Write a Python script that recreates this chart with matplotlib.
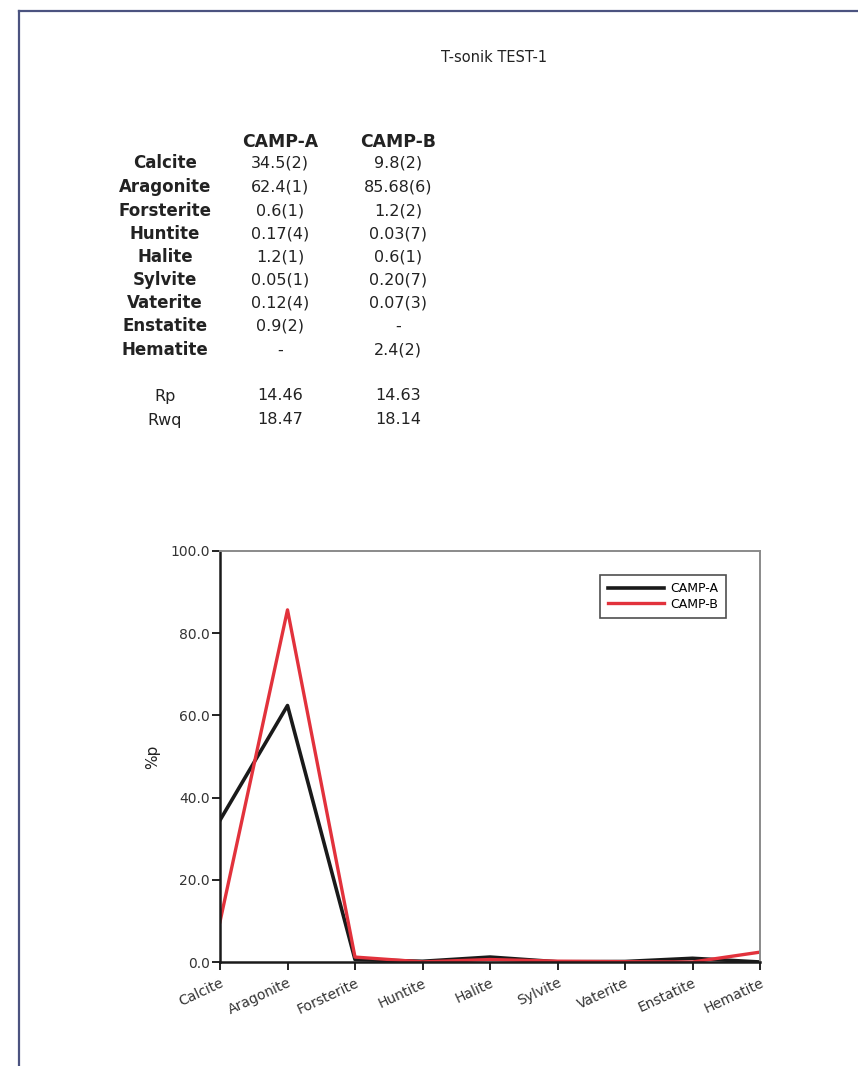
import matplotlib.pyplot as plt
from matplotlib.lines import Line2D

minerals = ['Calcite', 'Aragonite', 'Forsterite', 'Huntite', 'Halite',
            'Sylvite', 'Vaterite', 'Enstatite', 'Hematite']
camp_a = ['34.5(2)', '62.4(1)', '0.6(1)', '0.17(4)', '1.2(1)',
          '0.05(1)', '0.12(4)', '0.9(2)', '-']
camp_b = ['9.8(2)', '85.68(6)', '1.2(2)', '0.03(7)', '0.6(1)',
          '0.20(7)', '0.07(3)', '-', '2.4(2)']
fit_names = ['Rp', 'Rwq']
fit_a = ['14.46', '18.47']
fit_b = ['14.63', '18.14']
yticks = [0, 20, 40, 60, 80, 100]


def to_value(s):
    # "34.5(2)" -> 34.5, "-" -> 0
    if s.strip() == '-':
        return 0.0
    return float(s.split('(')[0])


vals_a = [to_value(s) for s in camp_a]
vals_b = [to_value(s) for s in camp_b]

W, H = 858, 1066
fig = plt.figure(figsize=(W / 100, H / 100), dpi=100)
fig.patch.set_facecolor('white')

# page frame, top and left edges
frame_col = '#4b5380'
fig.add_artist(Line2D([19 / W, 1.0], [1 - 11 / H, 1 - 11 / H],
                      color=frame_col, lw=1.6, transform=fig.transFigure))
fig.add_artist(Line2D([19 / W, 19 / W], [1 - 11 / H, 0.0],
                      color=frame_col, lw=1.6, transform=fig.transFigure))

fig.text(494 / W, 1 - 58 / H, 'T-sonik TEST-1', ha='center', va='center',
         fontsize=10.5, color='#222222')

# results table
txt_col = '#222222'
col_lab, col_a, col_b = 165 / W, 280 / W, 398 / W
fs = 11.5
fs_bold = 12
fig.text(col_a, 1 - 142 / H, 'CAMP-A', ha='center', va='center',
         fontsize=12.4, fontweight='bold', color=txt_col)
fig.text(col_b, 1 - 142 / H, 'CAMP-B', ha='center', va='center',
         fontsize=12.4, fontweight='bold', color=txt_col)
row_y = [163, 187, 211, 234, 257, 280, 303, 326, 350]
for y, name, a, b in zip(row_y, minerals, camp_a, camp_b):
    fig.text(col_lab, 1 - y / H, name, ha='center', va='center',
             fontsize=fs_bold, fontweight='bold', color=txt_col)
    fig.text(col_a, 1 - y / H, a, ha='center', va='center',
             fontsize=fs, color=txt_col)
    fig.text(col_b, 1 - y / H, b, ha='center', va='center',
             fontsize=fs, color=txt_col)
for y, name, a, b in zip([396, 420], fit_names, fit_a, fit_b):
    fig.text(col_lab, 1 - y / H, name, ha='center', va='center',
             fontsize=fs, color=txt_col)
    fig.text(col_a, 1 - y / H, a, ha='center', va='center',
             fontsize=fs, color=txt_col)
    fig.text(col_b, 1 - y / H, b, ha='center', va='center',
             fontsize=fs, color=txt_col)

# composition plot
ax = fig.add_axes([220 / W, 1 - 962 / H, 540 / W, 411 / H])
x = list(range(len(minerals)))
ax.plot(x, vals_a, color='#1a1a1a', lw=2.6, label='CAMP-A')
ax.plot(x, vals_b, color='#e2323c', lw=2.4, label='CAMP-B')
ax.set_xlim(0, len(minerals) - 1)
ax.set_ylim(0, 100)
ax.set_yticks(yticks)
ax.set_yticklabels([f'{v:.1f}' for v in yticks], fontsize=10, color='#333333')
ax.set_xticks(x)
ax.set_xticklabels(minerals, rotation=25, ha='right', rotation_mode='anchor',
                   fontsize=10, color='#333333')
ax.tick_params(axis='both', direction='out', length=6, width=1.4,
               color='#222222')
ax.tick_params(axis='y', pad=1.5)
ax.tick_params(axis='x', pad=4)
ax.set_ylabel('%p', fontsize=11, color='#222222', labelpad=7)
for side in ('left', 'bottom'):
    ax.spines[side].set_color('#1a1a1a')
    ax.spines[side].set_linewidth(1.8)
for side in ('top', 'right'):
    ax.spines[side].set_color('#8a8a8a')
    ax.spines[side].set_linewidth(1.4)

leg = ax.legend(loc='upper right', bbox_to_anchor=(0.937, 0.942),
                borderaxespad=0, fontsize=9, frameon=True, fancybox=False,
                handlelength=4.5, borderpad=0.6, labelspacing=0.2,
                handletextpad=0.5)
leg.get_frame().set_edgecolor('#222222')
leg.get_frame().set_linewidth(1.2)

fig.savefig('out.png', dpi=100, facecolor='white')
